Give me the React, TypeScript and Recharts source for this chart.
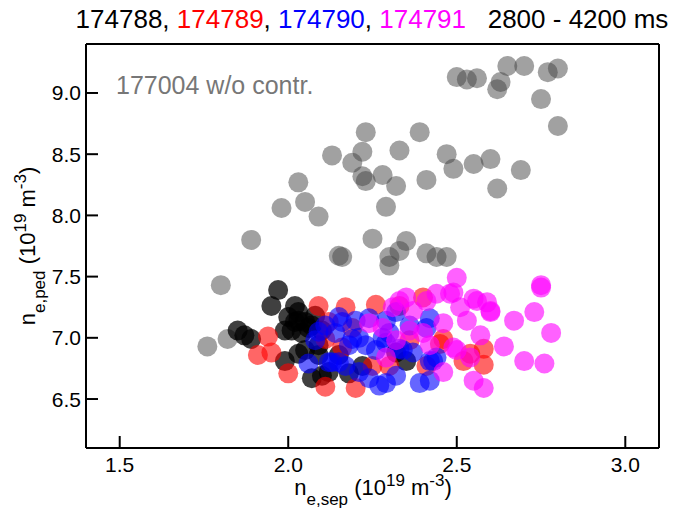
import { Scatter, ScatterChart, XAxis, YAxis } from "recharts";

// shot groups, values (x = ne,sep, y = ne,ped, 1e19 m^-3)
const grayX = [2.50, 2.53, 2.56, 2.65, 2.63, 2.62, 2.70, 2.77, 2.80, 2.75, 2.80, 2.23, 2.39, 2.13, 2.22, 2.19, 2.33, 2.47, 2.49, 2.55, 2.60, 2.69, 2.62, 2.03, 2.22, 2.23, 2.28, 2.32, 2.41, 1.98, 2.05, 2.09, 2.29, 1.89, 2.15, 2.16, 2.25, 2.35, 2.33, 2.30, 2.30, 2.41, 2.44, 2.47, 1.80, 1.76, 1.82];
const grayY = [9.13, 9.11, 9.12, 9.22, 9.09, 9.03, 9.22, 9.17, 9.20, 8.95, 8.73, 8.68, 8.68, 8.49, 8.52, 8.43, 8.53, 8.50, 8.38, 8.42, 8.46, 8.37, 8.22, 8.27, 8.32, 8.28, 8.33, 8.24, 8.29, 8.06, 8.11, 7.99, 8.07, 7.80, 7.67, 7.66, 7.81, 7.79, 7.71, 7.66, 7.59, 7.69, 7.66, 7.66, 7.43, 6.93, 6.99];

const blackX = [1.97, 1.95, 2.02, 2.00, 2.03, 2.05, 2.07, 1.99, 2.01, 2.04, 1.85, 1.87, 1.89, 2.05, 2.03, 1.99, 2.10, 2.07, 2.09, 2.12, 2.18, 2.22, 2.32, 2.35, 2.09, 2.15, 2.03, 2.06, 2.10, 2.02, 2.08];
const blackY = [7.39, 7.26, 7.26, 7.17, 7.14, 7.13, 7.10, 7.06, 7.06, 7.04, 7.06, 7.02, 6.99, 6.90, 6.87, 6.81, 6.69, 6.67, 6.86, 6.72, 6.71, 6.77, 6.88, 6.81, 6.94, 6.86, 7.21, 7.08, 7.06, 7.13, 7.18];

const redX = [2.09, 2.17, 2.26, 1.94, 1.91, 1.95, 2.00, 2.11, 2.20, 2.11, 2.16, 2.19, 2.25, 2.30, 2.40, 2.46, 2.58, 2.58, 2.52, 2.54, 2.45, 2.33, 2.36, 2.41, 2.12];
const redY = [7.26, 7.25, 7.27, 7.01, 6.86, 6.88, 6.71, 6.60, 6.59, 6.99, 6.92, 7.08, 6.77, 6.77, 7.33, 6.99, 6.91, 6.78, 6.81, 6.87, 6.95, 7.26, 6.98, 6.77, 7.13];

const blueX = [2.11, 2.15, 2.14, 2.06, 2.12, 2.15, 2.16, 2.19, 2.24, 2.23, 2.28, 2.32, 2.30, 2.13, 2.17, 2.24, 2.29, 2.27, 2.33, 2.37, 2.39, 2.21, 2.29, 2.34, 2.41, 2.42, 2.42, 2.43, 2.42, 2.44, 2.20, 2.08, 2.09, 2.18, 2.26, 2.29, 2.36, 2.21, 2.32];
const blueY = [7.10, 7.17, 7.04, 6.79, 6.80, 6.80, 7.13, 6.99, 7.16, 6.94, 7.00, 7.21, 7.04, 6.80, 6.77, 6.67, 6.63, 6.61, 6.91, 6.88, 6.63, 7.00, 6.96, 6.90, 7.08, 6.81, 6.65, 6.81, 7.16, 6.84, 7.14, 6.98, 7.05, 6.94, 6.90, 7.14, 7.10, 6.72, 6.69];

const magentaX = [2.50, 2.75, 2.75, 2.44, 2.48, 2.35, 2.55, 2.59, 2.60, 2.67, 2.73, 2.78, 2.64, 2.70, 2.76, 2.55, 2.58, 2.51, 2.53, 2.57, 2.49, 2.46, 2.29, 2.40, 2.31, 2.33, 2.37, 2.41, 2.46, 2.28, 2.24, 2.56, 2.49, 2.54, 2.60, 2.50, 2.36, 2.32, 2.42];
const magentaY = [7.49, 7.41, 7.43, 7.36, 7.36, 7.33, 7.32, 7.29, 7.21, 7.14, 7.21, 7.04, 6.93, 6.81, 6.79, 6.65, 6.59, 7.25, 7.14, 7.02, 6.92, 6.72, 6.84, 7.04, 7.25, 7.30, 7.22, 7.30, 7.12, 7.08, 7.12, 7.30, 7.37, 6.84, 7.22, 6.90, 7.06, 6.98, 6.94];

const xTicks = [1.5, 2.0, 2.5, 3.0];
const yTicks = [6.5, 7.0, 7.5, 8.0, 8.5, 9.0];

const FONT = "'Liberation Sans', Arial, Helvetica, sans-serif";
const R = 10;

const toPoints = (xs: number[], ys: number[]) => xs.map((x, i) => ({ x, y: ys[i] }));

const series = [
  { name: "177004", data: toPoints(grayX, grayY), color: "#444", opacity: 0.5 },
  { name: "174788", data: toPoints(blackX, blackY), color: "#000", opacity: 0.75 },
  { name: "174789", data: toPoints(redX, redY), color: "#ff0000", opacity: 0.6 },
  { name: "174790", data: toPoints(blueX, blueY), color: "#0000ff", opacity: 0.6 },
  { name: "174791", data: toPoints(magentaX, magentaY), color: "#ff00ff", opacity: 0.62 },
];

function dot(color: string, opacity: number) {
  return (p: any) => <circle cx={p.cx} cy={p.cy} r={R} fill={color} fillOpacity={opacity} />;
}

// ticks point into the plot, labels sit outside
function BottomTick(props: any) {
  const { x, y, payload } = props;
  return (
    <g>
      <line x1={x} y1={y} x2={x} y2={y - 12} stroke="#000" strokeWidth={2} />
      <text x={x} y={y + 24} textAnchor="middle" fontSize={21} fontFamily={FONT} fill="#000">
        {payload.value.toFixed(1)}
      </text>
    </g>
  );
}

function TopTick(props: any) {
  const { x, y } = props;
  return <line x1={x} y1={y} x2={x} y2={y + 12} stroke="#000" strokeWidth={2} />;
}

function LeftTick(props: any) {
  const { x, y, payload } = props;
  return (
    <g>
      <line x1={x} y1={y} x2={x + 12} y2={y} stroke="#000" strokeWidth={2} />
      <text x={x - 5} y={y + 7.5} textAnchor="end" fontSize={21} fontFamily={FONT} fill="#000">
        {payload.value.toFixed(1)}
      </text>
    </g>
  );
}

const frame = { stroke: "#000", strokeWidth: 2 };

export default function App() {
  return (
    <div style={{ position: "absolute", left: 0, top: 0, width: 688, height: 508, background: "#fff" }}>
      <ScatterChart width={688} height={508} margin={{ top: 40, right: 25, bottom: 10, left: 16 }}>
        <XAxis
          type="number"
          dataKey="x"
          domain={[1.4, 3.1]}
          ticks={xTicks}
          allowDataOverflow
          height={50}
          axisLine={frame}
          tickLine={false}
          tickSize={0}
          tickMargin={0}
          tick={<BottomTick />}
        />
        <XAxis
          xAxisId="top"
          orientation="top"
          type="number"
          domain={[1.4, 3.1]}
          ticks={xTicks}
          allowDataOverflow
          height={4}
          axisLine={frame}
          tickLine={false}
          tickSize={0}
          tickMargin={0}
          tick={<TopTick />}
        />
        <YAxis
          type="number"
          dataKey="y"
          domain={[6.1, 9.4]}
          ticks={yTicks}
          allowDataOverflow
          width={70}
          axisLine={frame}
          tickLine={false}
          tickSize={0}
          tickMargin={0}
          tick={<LeftTick />}
        />
        <YAxis
          yAxisId="right"
          orientation="right"
          type="number"
          domain={[6.1, 9.4]}
          allowDataOverflow
          width={4}
          axisLine={frame}
          tickLine={false}
          tick={false}
        />
        {series.map((s) => (
          <Scatter
            key={s.name}
            name={s.name}
            data={s.data}
            shape={dot(s.color, s.opacity)}
            isAnimationActive={false}
          />
        ))}
      </ScatterChart>
      <svg
        width={688}
        height={508}
        style={{ position: "absolute", left: 0, top: 0, pointerEvents: "none" }}
        fontFamily={FONT}
      >
        <text x={372} y={28} textAnchor="middle" fontSize={26} xmlSpace="preserve">
          <tspan fill="#000">174788, </tspan>
          <tspan fill="#ff0000">174789</tspan>
          <tspan fill="#000">, </tspan>
          <tspan fill="#0000ff">174790</tspan>
          <tspan fill="#000">, </tspan>
          <tspan fill="#ff00ff">174791</tspan>
          <tspan fill="#000">{"   2800 - 4200 ms"}</tspan>
        </text>
        <text x={116} y={94} fontSize={25} fill="#777">
          177004 w/o contr.
        </text>
        <text x={373} y={495} textAnchor="middle" fontSize={22} fill="#000">
          n<tspan baselineShift="sub" fontSize={17}>e,sep</tspan>
          <tspan> (10</tspan>
          <tspan baselineShift="super" fontSize={17}>19</tspan>
          <tspan> m</tspan>
          <tspan baselineShift="super" fontSize={17}>-3</tspan>
          <tspan>)</tspan>
        </text>
        <text transform="translate(35,246) rotate(-90)" textAnchor="middle" fontSize={22} fill="#000">
          n<tspan baselineShift="sub" fontSize={17}>e,ped</tspan>
          <tspan> (10</tspan>
          <tspan baselineShift="super" fontSize={17}>19</tspan>
          <tspan> m</tspan>
          <tspan baselineShift="super" fontSize={17}>-3</tspan>
          <tspan>)</tspan>
        </text>
      </svg>
    </div>
  );
}
